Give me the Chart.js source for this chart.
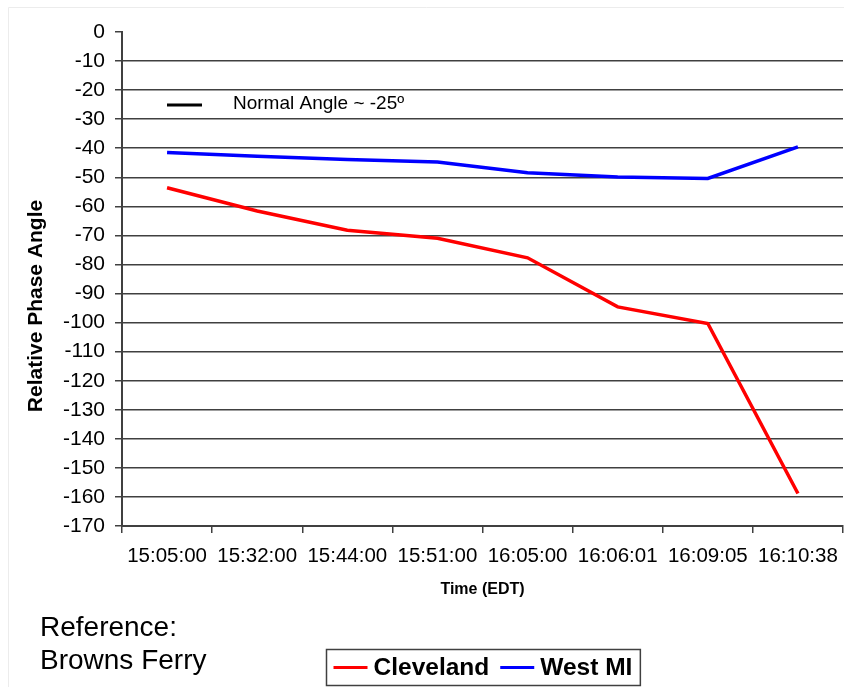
<!DOCTYPE html>
<html>
<head>
<meta charset="utf-8">
<script src="https://cdn.jsdelivr.net/npm/chart.js@4.4.1/dist/chart.umd.min.js"></script>
<style>
  html, body { margin: 0; padding: 0; background: #ffffff; }
  #wrap { width: 844px; height: 687px; position: relative; }
</style>
</head>
<body>
<div id="wrap"><canvas id="c" width="844" height="687"></canvas></div>
<script>
// Sample times (EDT)
const times = ['15:05:00', '15:32:00', '15:44:00', '15:51:00', '16:05:00', '16:06:01', '16:09:05', '16:10:38'];

// Relative phase angle (degrees), referenced to Browns Ferry
const cleveland = [-53.6, -61.6, -68.2, -71.0, -77.7, -94.6, -100.3, -158.8];
const westMI    = [-41.5, -42.8, -43.9, -44.7, -48.4, -49.9, -50.4, -39.5];

const seriesNames = ['Cleveland', 'West MI'];
const yTitle = 'Relative Phase Angle';
const xTitle = 'Time (EDT)';
const normalNote = 'Normal Angle ~ -25º';
const referenceNote = ['Reference:', 'Browns Ferry'];

const FONT = '"Liberation Sans", Arial, Helvetica, sans-serif';
const GRID = '#404040';

// Background, outer frame, y title, note labels and the boxed legend under the axis
const decorations = {
  id: 'decorations',
  beforeDraw(chart) {
    const ctx = chart.ctx;
    ctx.save();
    ctx.fillStyle = '#ffffff';
    ctx.fillRect(0, 0, chart.width, chart.height);
    ctx.strokeStyle = '#ececec';
    ctx.lineWidth = 1;
    ctx.beginPath();
    ctx.moveTo(8.5, chart.height);
    ctx.lineTo(8.5, 7.5);
    ctx.lineTo(chart.width, 7.5);
    ctx.stroke();
    ctx.restore();
  },
  afterDraw(chart) {
    const ctx = chart.ctx;
    const area = chart.chartArea;
    ctx.save();
    ctx.fillStyle = '#000000';

    // Vertical axis title
    ctx.save();
    ctx.translate(36, 306);
    ctx.rotate(-Math.PI / 2);
    ctx.font = 'bold 21px ' + FONT;
    ctx.textAlign = 'center';
    ctx.textBaseline = 'middle';
    ctx.fillText(yTitle, 0, 0);
    ctx.restore();

    // "Normal Angle" key inside the plot
    ctx.strokeStyle = '#000000';
    ctx.lineWidth = 3;
    ctx.beginPath();
    ctx.moveTo(167, 105);
    ctx.lineTo(202, 105);
    ctx.stroke();
    ctx.font = '19px ' + FONT;
    ctx.textBaseline = 'middle';
    ctx.textAlign = 'left';
    ctx.fillText(normalNote, 233, 104);

    // Reference bus note
    ctx.font = '28px ' + FONT;
    ctx.fillText(referenceNote[0], 40, 628);
    ctx.fillText(referenceNote[1], 40, 661);

    // Boxed series legend
    ctx.font = 'bold 24.5px ' + FONT;
    const ds = chart.data.datasets;
    const lineLen = 34, gapLT = 6, gapItems = 11, padL = 7, padR = 8;
    let total = padL + padR;
    ds.forEach((d, i) => {
      total += lineLen + gapLT + ctx.measureText(d.label).width;
      if (i < ds.length - 1) total += gapItems;
    });
    const cx = (area.left + area.right) / 2;
    const boxL = Math.round(cx - total / 2) + 0.5;
    const boxT = 649.5, boxH = 36;
    ctx.strokeStyle = '#404040';
    ctx.lineWidth = 1.5;
    ctx.strokeRect(boxL, boxT, total, boxH);
    let x = boxL + padL;
    const yMid = boxT + boxH / 2;
    ds.forEach((d) => {
      ctx.strokeStyle = d.borderColor;
      ctx.lineWidth = 3;
      ctx.beginPath();
      ctx.moveTo(x, yMid);
      ctx.lineTo(x + lineLen, yMid);
      ctx.stroke();
      x += lineLen + gapLT;
      ctx.fillStyle = '#000000';
      ctx.fillText(d.label, x, yMid + 1);
      x += ctx.measureText(d.label).width + gapItems;
    });
    ctx.restore();
  }
};

new Chart(document.getElementById('c'), {
  type: 'line',
  data: {
    labels: times,
    datasets: [
      {
        label: seriesNames[0],
        data: cleveland,
        borderColor: '#ff0000',
        backgroundColor: '#ff0000',
        borderWidth: 3.5,
        pointRadius: 0,
        tension: 0,
        fill: false
      },
      {
        label: seriesNames[1],
        data: westMI,
        borderColor: '#0000ff',
        backgroundColor: '#0000ff',
        borderWidth: 3.5,
        pointRadius: 0,
        tension: 0,
        fill: false
      }
    ]
  },
  options: {
    responsive: false,
    animation: false,
    devicePixelRatio: 1,
    layout: { padding: { left: 20, right: 1, top: 32, bottom: 81 } },
    plugins: {
      legend: { display: false },
      tooltip: { enabled: false },
      title: { display: false }
    },
    scales: {
      x: {
        type: 'category',
        offset: true,
        afterFit: (s) => { s.height = 80; s.paddingLeft = 0; s.paddingRight = 0; },
        grid: {
          offset: true,
          drawOnChartArea: false,
          drawTicks: true,
          tickLength: 7,
          color: GRID,
          lineWidth: 1.5
        },
        border: { display: true, color: GRID, width: 2 },
        ticks: {
          color: '#000000',
          font: { family: FONT, size: 20.5 },
          padding: 11,
          maxRotation: 0,
          autoSkip: false
        },
        title: {
          display: true,
          text: xTitle,
          color: '#000000',
          font: { family: FONT, size: 16, weight: 'bold' },
          padding: { top: 7, bottom: 7 }
        }
      },
      y: {
        min: -170,
        max: 0,
        afterFit: (s) => { s.width = 102; },
        grid: {
          drawTicks: true,
          tickLength: 7,
          color: (c) => (c.tick && c.tick.value === 0) ? 'rgba(0,0,0,0)' : GRID,
          tickColor: GRID,
          lineWidth: 1.5
        },
        border: { display: true, color: GRID, width: 2 },
        ticks: {
          stepSize: 10,
          color: '#000000',
          font: { family: FONT, size: 21 },
          padding: 10
        },
        title: { display: false }
      }
    }
  },
  plugins: [decorations]
});
</script>
</body>
</html>
